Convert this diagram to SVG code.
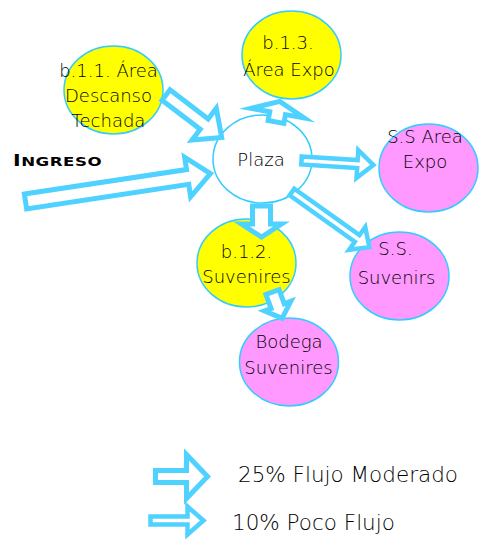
<svg xmlns="http://www.w3.org/2000/svg" width="482" height="550" viewBox="0 0 482 550">
<style>
.n{stroke:#33CCFF;stroke-width:1.5}
.y{fill:#FFFF00}
.p{fill:#FF99FF}
.w{fill:#FFFFFF}
.ar{fill:#FFFFFF;stroke:#4FD2FF;stroke-width:5;stroke-linejoin:miter;stroke-miterlimit:6}
.ar2{fill:#FFFFFF;stroke:#4FD2FF;stroke-width:4.5;stroke-linejoin:miter;stroke-miterlimit:6}
.t{font-family:"DejaVu Sans","Liberation Sans",sans-serif;font-weight:200;font-size:18px;fill:#000;text-anchor:middle}
.lg{font-family:"DejaVu Sans","Liberation Sans",sans-serif;font-weight:200;font-size:21.5px;fill:#000}
.ing{font-family:"DejaVu Sans","Liberation Sans",sans-serif;font-weight:bold;fill:#000;letter-spacing:0.4px}
</style>
<rect width="482" height="550" fill="#FFFFFF"/>
<g id="node-plaza"><ellipse class="n w" cx="262.5" cy="159" rx="49.5" ry="44"/><text class="t" x="261" y="166">Plaza</text></g>
<g id="node-b11"><ellipse class="n y" cx="113.5" cy="90" rx="49.5" ry="44"/><text class="t"><tspan x="108.5" y="77">b.1.1. Área</tspan><tspan x="108.5" y="102">Descanso</tspan><tspan x="108.5" y="127">Techada</tspan></text></g>
<g id="node-b13"><ellipse class="n y" cx="291.5" cy="55" rx="49.5" ry="44"/><text class="t"><tspan x="288" y="49">b.1.3.</tspan><tspan x="289" y="76">Área Expo</tspan></text></g>
<g id="node-ssexpo"><ellipse class="n p" cx="428.5" cy="168" rx="49.5" ry="44"/><text class="t"><tspan x="425" y="143">S.S Area</tspan><tspan x="425" y="168">Expo</tspan></text></g>
<g id="node-sssuv"><ellipse class="n p" cx="399.5" cy="276" rx="49.5" ry="44"/><text class="t"><tspan x="395.5" y="255">S.S.</tspan><tspan x="396.5" y="284">Suvenirs</tspan></text></g>
<g id="node-b12"><ellipse class="n y" cx="246.5" cy="263" rx="49.5" ry="44"/><text class="t"><tspan x="246.5" y="258">b.1.2.</tspan><tspan x="246.5" y="283">Suvenires</tspan></text></g>
<g id="node-bodega"><ellipse class="n p" cx="289" cy="362" rx="49.5" ry="44"/><text class="t"><tspan x="289" y="348">Bodega</tspan><tspan x="288.5" y="374">Suvenires</tspan></text></g>
<g id="node-ingreso"><text class="ing" transform="translate(13,166) scale(1.28,1)" x="0" y="0"><tspan font-size="16">I</tspan><tspan font-size="13">NGRESO</tspan></text></g>
<g id="connectors">
<polygon class="ar" transform="translate(25.5,201.5) rotate(-8.6)" points="0,-7.5 164,-7.5 164,-20 187,0 164,20 164,7.5 0,7.5"/>
<polygon class="ar" transform="translate(166,95) rotate(37.3)" points="0,-6.5 48,-6.5 48,-20 70,0 48,20 48,6.5 0,6.5"/>
<polygon class="ar" transform="translate(276,122) rotate(-79.7)" points="0,-8 9,-8 9,-27 21,0 9,27 9,8 0,8"/>
<polygon class="ar2" transform="translate(301.5,160.5) rotate(3.6)" points="0,-4 56,-4 56,-14 72,0 56,14 56,4 0,4"/>
<polygon class="ar2" transform="translate(292,192) rotate(35.5)" points="0,-4 80,-4 80,-14 95,0 80,14 80,4 0,4"/>
<polygon class="ar" transform="translate(261.5,206) rotate(90)" points="0,-9 18,-9 18,-20 31,0 18,20 18,9 0,9"/>
<polygon class="ar" transform="translate(272.5,292) rotate(70)" points="0,-7 15,-7 15,-14 28,0 15,14 15,7 0,7"/>
</g>
<g id="legend">
<polygon class="ar" transform="translate(155.5,476.5)" points="0,-6 31,-6 31,-22 52,0 31,22 31,6 0,6"/>
<polygon class="ar2" transform="translate(150.5,520.5)" points="0,-4 37,-4 37,-14 53,0 37,14 37,4 0,4"/>
<text class="lg" x="238" y="482">25% Flujo Moderado</text>
<text class="lg" x="232" y="530">10% Poco Flujo</text>
</g>
</svg>
